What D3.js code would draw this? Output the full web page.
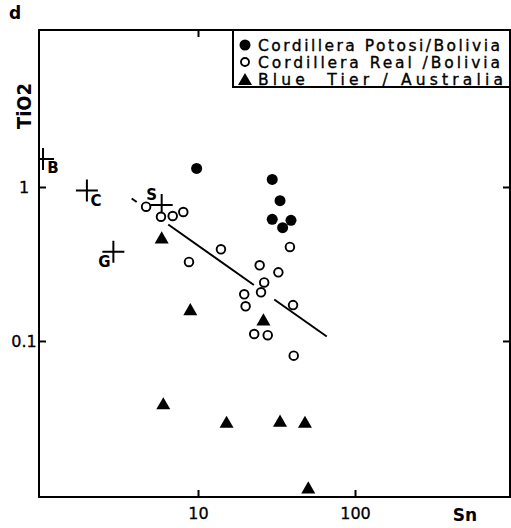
<!DOCTYPE html>
<html>
<head>
<meta charset="utf-8">
<script src="https://cdn.jsdelivr.net/npm/d3@7"></script>
<style>
  body { margin: 0; background: #fff; }
  svg { display: block; font-family: "DejaVu Sans", "Liberation Sans", Arial, sans-serif; }
</style>
</head>
<body>
<svg id="chart" width="511" height="528"></svg>
<script>
// DATA (Sn vs TiO2)
var potosiSn   = [9.8, 29.7, 33.3, 29.7, 34.6, 39.1];
var potosiTiO2 = [1.32, 1.12, 0.815, 0.617, 0.544, 0.608];

var realSn   = [4.67, 5.81, 6.9, 8.06, 14.0, 8.76, 38.5, 24.7, 32.5, 26.4, 25.2, 19.7, 20.1, 40.3, 22.8, 27.8, 40.7];
var realTiO2 = [0.745, 0.641, 0.648, 0.688, 0.394, 0.326, 0.408, 0.31, 0.279, 0.24, 0.207, 0.201, 0.168, 0.171, 0.111, 0.109, 0.0803];

var blueSn   = [5.87, 8.93, 26.1, 6.01, 15.2, 33.3, 48.0, 50.4];
var blueTiO2 = [0.471, 0.161, 0.138, 0.0394, 0.0299, 0.0304, 0.0299, 0.0112];

// reference points drawn as crosses
var refLabels = ["B", "C", "S", "G"];
var refSn     = [1.03, 1.96, 5.87, 2.89];
var refTiO2   = [1.52, 0.949, 0.764, 0.38];

// trend line, drawn in broken pieces
var trendSn   = [[3.78, 4.07], [6.46, 22.7], [30.6, 66.1]];
var trendTiO2 = [[0.842, 0.799], [0.571, 0.231], [0.186, 0.1069]];

var xTicks = [10, 100];
var yTicks = [0.1, 1];
var yTickLabels = ["0.1", "1"];

var legendLabels = ["Cordillera Potosi/Bolivia", "Cordillera Real /Bolivia", "Blue  Tier / Australia"];

// SVG
var svg = d3.select("#chart");
var plotLeft = 39, plotRight = 510, plotTop = 30, plotBottom = 497;

var x = d3.scaleLog().domain([0.971, 971]).range([plotLeft, plotRight]);
var y = d3.scaleLog().domain([0.0097, 10.46]).range([plotBottom, plotTop]);

svg.append("defs").append("clipPath").attr("id", "plotclip")
  .append("rect").attr("x", plotLeft).attr("y", plotTop)
  .attr("width", plotRight - plotLeft).attr("height", plotBottom - plotTop);

// trend line
var line = d3.line().x(d => x(d[0])).y(d => y(d[1]));
trendSn.forEach((seg, i) => {
  svg.append("path")
    .attr("d", line([[seg[0], trendTiO2[i][0]], [seg[1], trendTiO2[i][1]]]))
    .attr("fill", "none").attr("stroke", "#000").attr("stroke-width", 2);
});

// crosses
var crosses = svg.append("g").attr("clip-path", "url(#plotclip)");
var arm = 11;
refSn.forEach((sn, i) => {
  let cx = x(sn), cy = y(refTiO2[i]);
  crosses.append("path")
    .attr("d", "M" + (cx - arm) + "," + cy + "H" + (cx + arm) + "M" + cx + "," + (cy - arm) + "V" + (cy + arm))
    .attr("stroke", "#000").attr("stroke-width", 2).attr("fill", "none");
});
var labelOffsets = [[10, 14], [9, 16], [-10, -5], [-9, 15]];
svg.selectAll("text.ref")
  .data(refLabels)
  .enter().append("text")
  .attr("class", "ref")
  .attr("x", (d, i) => x(refSn[i]) + labelOffsets[i][0])
  .attr("y", (d, i) => y(refTiO2[i]) + labelOffsets[i][1])
  .attr("text-anchor", "middle")
  .attr("font-size", 15).attr("font-weight", "bold")
  .text(d => d);

// markers
var tri = d3.symbol().type(d3.symbolTriangle).size(85);

svg.selectAll("circle.potosi")
  .data(potosiSn)
  .enter().append("circle")
  .attr("class", "potosi")
  .attr("cx", d => x(d))
  .attr("cy", (d, i) => y(potosiTiO2[i]))
  .attr("r", 5.5)
  .attr("fill", "#000");

svg.selectAll("circle.real")
  .data(realSn)
  .enter().append("circle")
  .attr("class", "real")
  .attr("cx", d => x(d))
  .attr("cy", (d, i) => y(realTiO2[i]))
  .attr("r", 4.3)
  .attr("fill", "#fff").attr("stroke", "#000").attr("stroke-width", 1.9);

svg.selectAll("path.blue")
  .data(blueSn)
  .enter().append("path")
  .attr("class", "blue")
  .attr("d", tri)
  .attr("transform", (d, i) => "translate(" + x(d) + "," + (y(blueTiO2[i]) + 2) + ")")
  .attr("fill", "#000");

// axes (ticks pointing inward on all four sides)
function styleAxis(g) {
  g.select(".domain").remove();
  g.selectAll(".tick line").attr("stroke-width", 2);
  g.selectAll(".tick text").attr("font-size", 16).attr("fill", "#000")
    .attr("font-family", "'DejaVu Sans', sans-serif")
    .attr("stroke", "#000").attr("stroke-width", 0.3);
}

svg.append("g").attr("transform", "translate(0," + plotBottom + ")")
  .call(d3.axisBottom(x).tickValues(xTicks).tickSize(-7).tickPadding(11).tickFormat(d3.format("d")))
  .call(styleAxis);
svg.append("g").attr("transform", "translate(0," + plotTop + ")")
  .call(d3.axisTop(x).tickValues(xTicks).tickSize(-7).tickFormat(""))
  .call(styleAxis);
svg.append("g").attr("transform", "translate(" + plotLeft + ",0)")
  .call(d3.axisLeft(y).tickValues(yTicks).tickSize(-7).tickFormat((d, i) => yTickLabels[i]))
  .call(styleAxis)
  .selectAll(".tick text").attr("text-anchor", "middle").attr("x", -15);
svg.append("g").attr("transform", "translate(" + plotRight + ",0)")
  .call(d3.axisRight(y).tickValues(yTicks).tickSize(-7).tickFormat(""))
  .call(styleAxis);

// frame
svg.append("rect")
  .attr("x", plotLeft).attr("y", plotTop)
  .attr("width", plotRight - plotLeft).attr("height", plotBottom - plotTop)
  .attr("fill", "none").attr("stroke", "#000").attr("stroke-width", 2);

// legend
var legend = svg.append("g");
legend.append("rect")
  .attr("x", 233).attr("y", plotTop).attr("width", plotRight - 233).attr("height", 57)
  .attr("fill", "#fff").attr("stroke", "#000").attr("stroke-width", 2);
var rowY = [45, 62, 79];
var textLen = [242, 242, 245];
legend.append("circle").attr("cx", 245).attr("cy", rowY[0]).attr("r", 5.5).attr("fill", "#000");
legend.append("circle").attr("cx", 245).attr("cy", rowY[1]).attr("r", 4).attr("fill", "#fff").attr("stroke", "#000").attr("stroke-width", 1.9);
legend.append("path").attr("d", tri).attr("transform", "translate(245," + (rowY[2] + 2) + ")").attr("fill", "#000");
legend.selectAll("text")
  .data(legendLabels)
  .enter().append("text")
  .attr("x", 258)
  .attr("y", (d, i) => rowY[i] + 6)
  .attr("font-size", 15.5)
  .attr("stroke", "#000").attr("stroke-width", 0.35)
  .attr("textLength", (d, i) => textLen[i])
  .attr("lengthAdjust", "spacing")
  .style("white-space", "pre")
  .text(d => d);

// titles
svg.append("text").attr("x", 9).attr("y", 19).attr("font-size", 17).attr("font-weight", "bold").text("d");
svg.append("text")
  .attr("transform", "translate(31,106) rotate(-90)")
  .attr("text-anchor", "middle")
  .attr("font-size", 19).attr("font-weight", "bold")
  .attr("textLength", 46).attr("lengthAdjust", "spacingAndGlyphs")
  .text("TiO2");
svg.append("text").attr("x", 465).attr("y", 521).attr("text-anchor", "middle")
  .attr("font-size", 17).attr("font-weight", "bold").text("Sn");
</script>
</body>
</html>
